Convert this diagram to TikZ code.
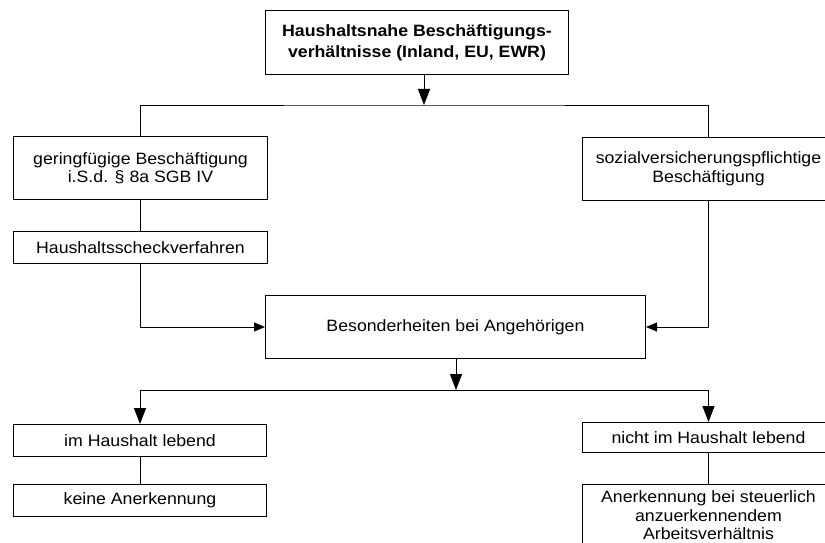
\documentclass[tikz,border=0pt]{standalone}
\usepackage{fontspec}
\setmainfont[FakeStretch=1.08]{Liberation Sans}
\usetikzlibrary{arrows.meta}

\begin{document}
\begin{tikzpicture}[x=1pt,y=-1pt,
  box/.style={draw, line width=1pt, anchor=north west, align=center, inner sep=2pt,
    font=\fontsize{16.4}{18.5}\selectfont},
  arr/.style={line width=1pt, -{Triangle[length=16pt,width=12pt]}},
  sarr/.style={line width=1pt, -{Triangle[length=11pt,width=9pt]}},
  conn/.style={line width=1pt}]

% Page
\clip (0,0) rectangle (825,543);
\fill[white] (0,0) rectangle (825,543);

% Boxes
\node[box, minimum width=303pt, minimum height=64pt, font=\fontsize{16.4}{21}\selectfont\bfseries]
  (top) at (265,10) {Haushaltsnahe Beschäftigungs-\\verhältnisse (Inland, EU, EWR)};
\node[box, minimum width=254pt, minimum height=63pt] (gering) at (13,136)
  {geringfügige Beschäftigung\\i.S.d. § 8a SGB IV};
\node[box, minimum width=254pt, minimum height=32pt] (scheck) at (13,231) {Haushaltsscheckverfahren};
\node[box, minimum width=252pt, minimum height=63pt] (sozial) at (582,137)
  {sozialversicherungspflichtige\\Beschäftigung};
\node[box, minimum width=380pt, minimum height=63pt] (besond) at (265,295) {Besonderheiten bei Angehörigen};
\node[box, minimum width=253pt, minimum height=32pt] (imhh) at (13,424) {im Haushalt lebend};
\node[box, minimum width=253pt, minimum height=32pt] (keine) at (13,484) {keine Anerkennung};
\node[box, minimum width=252pt, minimum height=30pt] (nichthh) at (582,422) {nicht im Haushalt lebend};
\node[box, minimum width=252pt, minimum height=62pt] (anerk) at (582,484)
  {Anerkennung bei steuerlich\\anzuerkennendem\\Arbeitsverhältnis};

% Junctions
\coordinate (j1) at (424,105);
\coordinate (j2) at (456,390);

% Upper part
\draw[arr] (top.south -| j1) -- (j1);
\draw[conn] (gering.north) |- (j1) -| (sozial.north);
\draw[conn] (gering.south) -- (scheck.north);
\draw[sarr] (scheck.south) |- (besond.west);
\draw[sarr] (sozial.south) |- (besond.east);

% Lower part
\draw[arr] (besond.south -| j2) -- (j2);
\draw[arr] (j2) -| (imhh.north);
\draw[arr] (j2) -| (nichthh.north);
\draw[conn] (imhh.south) -- (keine.north);
\draw[conn] (nichthh.south) -- (anerk.north);

\end{tikzpicture}
\end{document}
